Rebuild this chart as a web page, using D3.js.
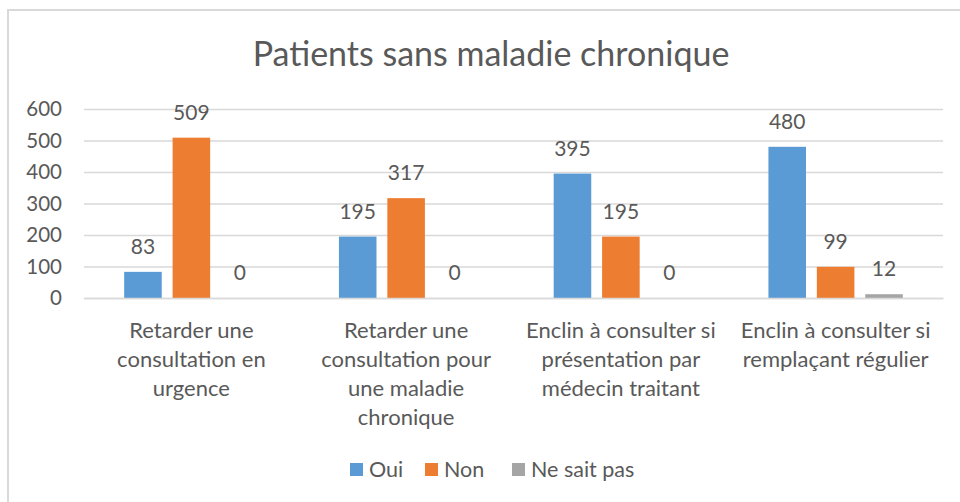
<!DOCTYPE html>
<meta charset="utf-8">
<script src="https://d3js.org/d3.v7.min.js"></script>
<style>
body { margin: 0; background: #fff; }
text { font-family: Lato, "Open Sans", sans-serif; fill: #595959; }
</style>
<div id="chart"></div>
<script>

// data
var categories = [
  ["Retarder une", "consultation en", "urgence"],
  ["Retarder une", "consultation pour", "une maladie", "chronique"],
  ["Enclin à consulter si", "présentation par", "médecin traitant"],
  ["Enclin à consulter si", "remplaçant régulier"]
];
var seriesNames = ["Oui", "Non", "Ne sait pas"];
var oui = [83, 195, 395, 480];
var non = [509, 317, 195, 99];
var nsp = [0, 0, 0, 12];
var yTicks = [0, 100, 200, 300, 400, 500, 600];
var colors = ["#5B9BD5", "#ED7D31", "#A5A5A5"];

var values = [oui, non, nsp];
var catKeys = categories.map(function (c, i) { return i; });

var W = 960, H = 502;
var margin = {top: 109, right: 17, bottom: 204, left: 84},
    width = W - margin.left - margin.right,
    height = H - margin.top - margin.bottom;

var root = d3.select("#chart").append("svg")
    .attr("width", W)
    .attr("height", H);

// chart frame
root.append("rect")
    .attr("x", 8).attr("y", 10)
    .attr("width", W).attr("height", H)
    .attr("fill", "none")
    .attr("stroke", "#D9D9D9")
    .attr("stroke-width", 2);

// title
root.append("text")
    .attr("x", 491).attr("y", 66)
    .attr("text-anchor", "middle")
    .style("font-size", "34px")
    .text("Patients sans maladie chronique");

var svg = root.append("g")
    .attr("transform", "translate(" + margin.left + "," + margin.top + ")");

var x = d3.scaleBand()
    .domain(catKeys)
    .range([0, width]);

var xs = d3.scaleBand()
    .domain(seriesNames)
    .range([0, x.bandwidth()])
    .paddingInner(0.224)
    .paddingOuter(0.83);

var y = d3.scaleLinear()
    .domain([0, 600])
    .range([height, 0]);

// Y axis + gridlines
var yAxis = svg.append("g")
    .call(d3.axisLeft(y).tickValues(yTicks).tickSize(-width).tickPadding(22));
yAxis.select(".domain").remove();
yAxis.selectAll("line").attr("stroke", "#D9D9D9").attr("stroke-width", 1.5);
yAxis.selectAll("text")
    .style("font-size", "20.5px")
    .style("font-family", "Lato, sans-serif")
    .attr("fill", "#595959");

// bars
var groups = svg.append("g")
  .selectAll("g")
  .data(seriesNames)
  .enter()
  .append("g")
    .attr("fill", function (d, i) { return colors[i]; });

groups.selectAll("rect")
  .data(function (d, i) {
    return values[i].map(function (v, j) { return {s: d, c: j, v: v}; });
  })
  .enter()
  .append("rect")
    .attr("x", function (d) { return x(d.c) + xs(d.s); })
    .attr("y", function (d) { return y(d.v); })
    .attr("width", xs.bandwidth())
    .attr("height", function (d) { return height - y(d.v); });

// value labels
groups.selectAll("text")
  .data(function (d, i) {
    return values[i].map(function (v, j) { return {s: d, c: j, v: v}; });
  })
  .enter()
  .append("text")
    .attr("x", function (d) { return x(d.c) + xs(d.s) + xs.bandwidth() / 2; })
    .attr("y", function (d) { return y(d.v) - 18; })
    .attr("text-anchor", "middle")
    .style("font-size", "21px")
    .text(function (d) { return d.v; });

// X axis
var xAxis = svg.append("g")
    .attr("transform", "translate(0," + height + ")")
    .call(d3.axisBottom(x).tickSize(0).tickFormat(""));
xAxis.select(".domain").attr("stroke", "#D9D9D9").attr("stroke-width", 1.5);

xAxis.selectAll(".tick").each(function (d) {
  var t = d3.select(this).append("text")
      .attr("text-anchor", "middle")
      .style("font-size", "22px");
  categories[d].forEach(function (line, k) {
    t.append("tspan")
        .attr("x", 0)
        .attr("y", 40 + k * 29)
        .text(line);
  });
});

// legend
var legendX = [350, 425, 512];
var legend = root.append("g");
seriesNames.forEach(function (s, i) {
  legend.append("rect")
      .attr("x", legendX[i]).attr("y", 463)
      .attr("width", 13).attr("height", 13)
      .attr("fill", colors[i]);
  legend.append("text")
      .attr("x", legendX[i] + 19).attr("y", 477)
      .style("font-size", "21.5px")
      .text(s);
});

</script>
